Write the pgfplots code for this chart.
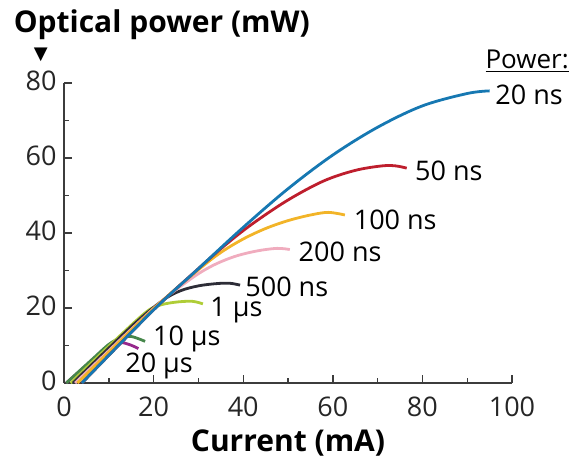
\documentclass[border=0pt]{standalone}
\usepackage{pgfplots}
\pgfplotsset{compat=1.18}
\usepackage{fontspec}
\setmainfont{Open Sans}
\newfontfamily\symfont{DejaVu Sans}

\definecolor{c20ns}{RGB}{22,120,178}
\definecolor{c50ns}{RGB}{190,30,45}
\definecolor{c100ns}{RGB}{242,180,40}
\definecolor{c200ns}{RGB}{240,172,190}
\definecolor{c500ns}{RGB}{45,45,55}
\definecolor{c1us}{RGB}{175,205,55}
\definecolor{c10us}{RGB}{70,135,75}
\definecolor{c20us}{RGB}{150,40,140}
\definecolor{axgray}{RGB}{60,60,60}
\tikzset{lbl/.style={anchor=base west, inner sep=0pt}}

\begin{document}
\fontsize{13.5}{16}\selectfont
\begin{tikzpicture}
\begin{axis}[
  scale only axis,
  width=224pt, height=150pt,
  xmin=0, xmax=100, ymin=0, ymax=80,
  axis lines*=left,
  axis line style={axgray, line width=0.7pt},
  xtick={0,20,...,100}, ytick={0,20,...,80},
  minor x tick num=1, minor y tick num=1,
  tick align=inside,
  major tick length=4pt, minor tick length=2.5pt,
  tick style={axgray, line width=0.7pt},
  /pgf/number format/assume math mode=true,
  xticklabel style={text=black!85, yshift=-2.5pt},
  yticklabel style={text=black!85, xshift=1pt, yshift=1pt},
  xlabel={\fontsize{15}{18}\selectfont\bfseries Current (mA)},
  xlabel style={yshift=3pt},
  clip=false,
  every axis plot/.append style={line width=1.4pt, smooth, tension=0.55, no marks},
]
\addplot[c20us] coordinates {(0.5,0) (6,5.8) (10,9.8) (12.5,10.8) (14.7,10.2) (16.6,9.2)};
\addplot[c10us] coordinates {(0.5,0) (6,6) (10,10.3) (12.5,11.9) (15,12.4) (18.1,11.1)};
\addplot[c1us] coordinates {(1.5,0) (10,9.8) (18,18.6) (21,20.6) (24.5,21.5) (28.5,21.8) (31,21.1)};
\addplot[c500ns] coordinates {(2,0) (15,15) (22,22) (26,24.6) (30,25.9) (34,26.5) (37,26.6) (39.3,26.1)};
\addplot[c200ns] coordinates {(2.5,0) (20,19.9) (28,27.5) (33,31.2) (38,33.7) (43,35.2) (47.5,35.9) (50.4,35.6)};
\addplot[c100ns] coordinates {(3,0) (20,19.8) (30,30.2) (35,34.8) (40,38.4) (45,41.2) (50,43.3) (55,44.8) (59,45.5) (62.7,44.8)};
\addplot[c50ns] coordinates {(4,0) (20,19.5) (30,30.5) (36,36.8) (42,42.4) (50,48.8) (58,53.9) (65,56.7) (71,57.9) (74,57.9) (76.5,57.3)};
\addplot[c20ns] coordinates {(4,0) (20,19.5) (30,30.5) (40,41.5) (50,51.8) (60,60.8) (70,68.2) (80,73.9) (90,77.2) (95,77.9)};

\node[lbl] at (axis cs:96.2,74.4) {20 ns};
\node[lbl] at (axis cs:78.3,54.1) {50 ns};
\node[lbl] at (axis cs:64.6,41) {100 ns};
\node[lbl] at (axis cs:52.3,32.3) {200 ns};
\node[lbl] at (axis cs:40.4,23.2) {500 ns};
\node[lbl] at (axis cs:32.6,17.7) {1 µs};
\node[lbl] at (axis cs:19.8,9.9) {10 µs};
\node[lbl] at (axis cs:13.6,2.9) {20 µs};
\node[lbl] at (axis cs:94,83.9) {\fontsize{13}{16}\selectfont\underline{Power:}};

\node[anchor=base west, inner sep=0pt] at (rel axis cs:-0.113,1.169) {\fontsize{15}{18}\selectfont\bfseries Optical power (mW)};
\node[inner sep=0pt] at (rel axis cs:-0.052,1.093) {\symfont\small ▼};
\path (rel axis cs:-0.1429,-0.2567) rectangle (rel axis cs:1.1317,1.2767);
\end{axis}
\end{tikzpicture}
\end{document}
